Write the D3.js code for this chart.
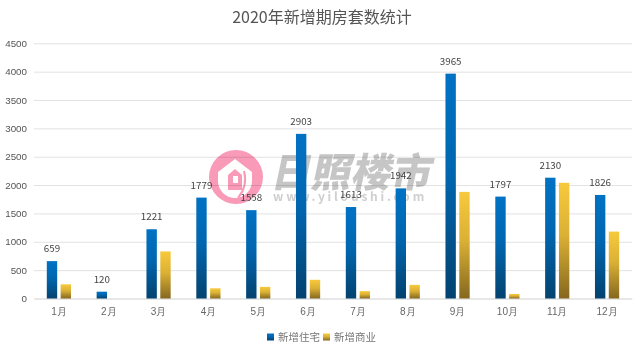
<!DOCTYPE html>
<html>
<head>
<meta charset="utf-8">
<script src="https://cdn.jsdelivr.net/npm/d3@7"></script>
<style>
    html, body { margin: 0; padding: 0; background: #fff; }
    svg { display: block; font-family: "Noto Sans CJK SC", "Noto Sans", sans-serif; }
</style>
</head>
<body>
<svg id="chart" width="640" height="354"></svg>
<script>
/**
 * Chart data
 */
var months = ["1月", "2月", "3月", "4月", "5月", "6月", "7月", "8月", "9月", "10月", "11月", "12月"];
var seriesNames = ["新增住宅", "新增商业"];
var housing = [659, 120, 1221, 1779, 1558, 2903, 1613, 1942, 3965, 1797, 2130, 1826];
var commercial = [250, 0, 830, 180, 205, 330, 130, 240, 1880, 80, 2040, 1180];
var yTicks = [0, 500, 1000, 1500, 2000, 2500, 3000, 3500, 4000, 4500];

var svg = d3.select("#chart");

// setup margins
var plotLeft = 34, plotRight = 632, plotTop = 43.3, plotBottom = 298.5;

var xScale = d3.scaleBand().domain(months).range([plotLeft, plotRight]);
var seriesScale = d3.scaleBand()
    .domain(seriesNames)
    .range([12.8, 37])
    .paddingInner(0.25);
var yScale = d3.scaleLinear().domain([0, 4500]).range([plotBottom, plotTop]);

// gradients for the two series
var defs = svg.append("defs");
function addGradient(id, from, to) {
    let g = defs.append("linearGradient")
        .attr("id", id)
        .attr("x1", 0).attr("y1", 0)
        .attr("x2", 0).attr("y2", 1);
    g.append("stop").attr("offset", "0%").attr("stop-color", from);
    g.append("stop").attr("offset", "45%").attr("stop-color", d3.interpolateRgb(from, to)(0.25));
    g.append("stop").attr("offset", "100%").attr("stop-color", to);
}
addGradient("blueFill", "#0072c4", "#03426f");
addGradient("goldFill", "#f7c93c", "#85681f");

// title
svg.append("text")
    .attr("x", 322)
    .attr("y", 23)
    .attr("text-anchor", "middle")
    .attr("font-size", 16)
    .attr("fill", "#555")
    .text("2020年新增期房套数统计");

// grid and y axis
var yAxis = d3.axisLeft(yScale)
    .tickValues(yTicks)
    .tickFormat(d3.format("d"))
    .tickSize(-(plotRight - plotLeft))
    .tickPadding(7);
var yG = svg.append("g")
    .attr("transform", `translate(${plotLeft},0)`)
    .call(yAxis);
yG.select(".domain").remove();
yG.selectAll("line").attr("stroke", "#e2e2e2");
yG.selectAll("text")
    .attr("font-size", 9.8)
    .attr("fill", "#555")
    .style("font-family", "inherit");

// x axis labels
var xAxis = d3.axisBottom(xScale).tickSize(0).tickPadding(9);
var xG = svg.append("g")
    .attr("transform", `translate(0,${plotBottom})`)
    .call(xAxis);
xG.select(".domain").attr("stroke", "#ddd");
xG.selectAll("text")
    .attr("font-size", 10)
    .attr("fill", "#666")
    .style("font-family", "inherit");

// watermark goes over the grid but under the bars
var mark = svg.append("g").style("mix-blend-mode", "multiply");
mark.append("path")
    .attr("d", "M263,177 A27,27 0 1 1 209,177 A27,27 0 1 1 263,177 Z M235,159 L218,172 L218,181 A17,17 0 1 0 252,181 L252,172 Z")
    .attr("fill", "#f89ab8")
    .attr("fill-rule", "evenodd");
mark.append("path")
    .attr("d", "M235,169 L242,175 L242,190 L228,190 L228,175 Z M233,176 L233,183 L238,183 L238,176 Z")
    .attr("fill", "#f89ab8")
    .attr("fill-rule", "evenodd");
mark.append("path")
    .attr("d", "M244,171 Q248,186 238,198")
    .attr("fill", "none")
    .attr("stroke", "#f89ab8")
    .attr("stroke-width", 2);
mark.append("text")
    .attr("transform", "translate(270,187) skewX(-12)")
    .attr("font-size", 40)
    .attr("font-weight", 900)
    .attr("fill", "#c6c6c6")
    .text("日照楼市");
mark.append("text")
    .attr("x", 273)
    .attr("y", 201)
    .attr("font-size", 12)
    .attr("font-weight", 700)
    .attr("letter-spacing", 2.8)
    .attr("fill", "#cfcfcf")
    .text("www.yiloushi.com");

// bars
var groups = svg.selectAll(".month")
    .data(months)
    .enter()
    .append("g")
    .attr("class", "month")
    .attr("transform", function(d){ return `translate(${xScale(d)},0)`; });

groups.append("rect")
    .attr("x", seriesScale(seriesNames[0]))
    .attr("y", function(d, i){ return yScale(housing[i]); })
    .attr("width", seriesScale.bandwidth())
    .attr("height", function(d, i){ return yScale(0) - yScale(housing[i]); })
    .attr("fill", "url(#blueFill)");

groups.append("rect")
    .attr("x", seriesScale(seriesNames[1]))
    .attr("y", function(d, i){ return yScale(commercial[i]); })
    .attr("width", seriesScale.bandwidth())
    .attr("height", function(d, i){ return yScale(0) - yScale(commercial[i]); })
    .attr("fill", "url(#goldFill)");

// value labels for the first series only
groups.append("text")
    .attr("x", seriesScale(seriesNames[0]) + seriesScale.bandwidth() / 2)
    .attr("y", function(d, i){ return yScale(housing[i]) - 9; })
    .attr("text-anchor", "middle")
    .attr("font-size", 9.8)
    .attr("fill", "#444")
    .text(function(d, i){ return housing[i]; });

// legend
var legendX = d3.scaleOrdinal().domain(seriesNames).range([267, 323]);
var legendFill = d3.scaleOrdinal().domain(seriesNames).range(["url(#blueFill)", "url(#goldFill)"]);
var legend = svg.selectAll(".legend")
    .data(seriesNames)
    .enter()
    .append("g")
    .attr("class", "legend")
    .attr("transform", function(d){ return `translate(${legendX(d)},337)`; });
legend.append("rect")
    .attr("y", -3.5)
    .attr("width", 7)
    .attr("height", 7)
    .attr("fill", function(d){ return legendFill(d); });
legend.append("text")
    .attr("x", 11)
    .attr("y", 4)
    .attr("font-size", 10.5)
    .attr("fill", "#777")
    .text(function(d){ return d; });
</script>
</body>
</html>
